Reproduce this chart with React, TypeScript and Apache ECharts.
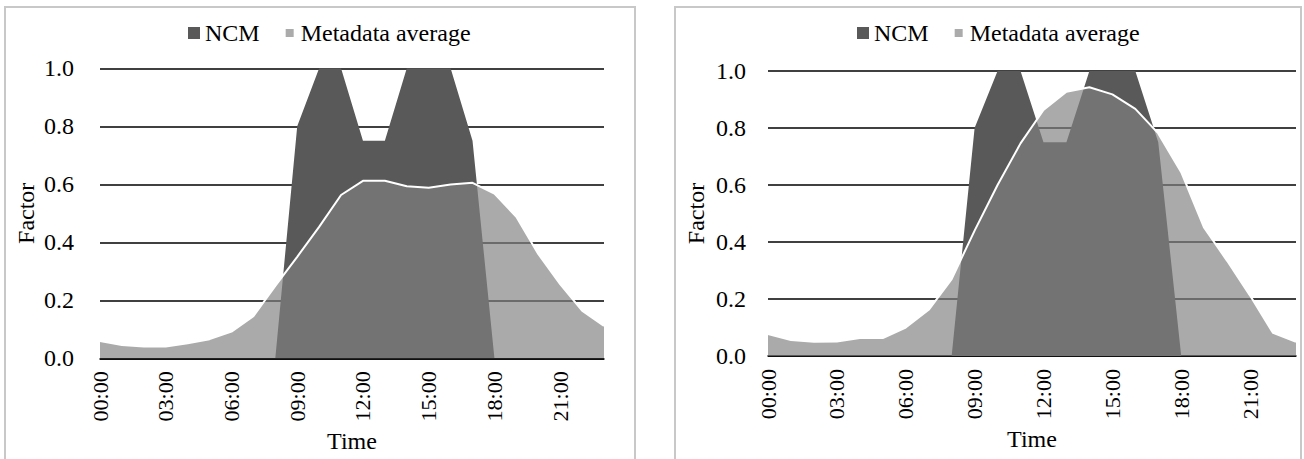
import React, { useEffect, useRef } from "react";
import * as echarts from "echarts";

const hours = [
  "00:00", "01:00", "02:00", "03:00", "04:00", "05:00", "06:00", "07:00",
  "08:00", "09:00", "10:00", "11:00", "12:00", "13:00", "14:00", "15:00",
  "16:00", "17:00", "18:00", "19:00", "20:00", "21:00", "22:00", "23:00",
];

const ncmLeft = [0, 0, 0, 0, 0, 0, 0, 0, 0, 0.8, 1, 1, 0.75, 0.75, 1, 1, 1, 0.75, 0, 0, 0, 0, 0, 0];
const metaLeft = [
  0.06, 0.046, 0.041, 0.041, 0.052, 0.066, 0.092, 0.145, 0.25, 0.35, 0.453, 0.563,
  0.612, 0.612, 0.593, 0.588, 0.599, 0.605, 0.568, 0.488, 0.36, 0.256, 0.164, 0.112,
];

const ncmRight = [0, 0, 0, 0, 0, 0, 0, 0, 0, 0.8, 1, 1, 0.75, 0.75, 1, 1, 1, 0.75, 0, 0, 0, 0, 0, 0];
const metaRight = [
  0.077, 0.056, 0.05, 0.051, 0.063, 0.063, 0.1, 0.162, 0.27, 0.44, 0.6, 0.746,
  0.863, 0.927, 0.943, 0.918, 0.867, 0.781, 0.645, 0.45, 0.334, 0.212, 0.081, 0.05,
];

const seriesNames = ["NCM", "Metadata average"];

const FONT = "Liberation Serif";

export default function App() {
  const ref = useRef<HTMLDivElement>(null);

  useEffect(() => {
    const chart = echarts.init(ref.current!, null, { renderer: "svg" });

    const panels = [
      {
        grid: { left: 100, top: 68.3, width: 504, height: 290 },
        legendLeft: 188,
        legendTop: 21,
        yLabelMargin: 26,
        yNameGap: 62,
        xNameGap: 68,
        ncm: ncmLeft,
        meta: metaLeft,
      },
      {
        grid: { left: 768, top: 71, width: 528, height: 285 },
        legendLeft: 857,
        legendTop: 21,
        yLabelMargin: 22,
        yNameGap: 60,
        xNameGap: 71,
        ncm: ncmRight,
        meta: metaRight,
      },
    ];

    const option: any = {
      animation: false,
      backgroundColor: "#ffffff",
      textStyle: { fontFamily: FONT, color: "#000" },
      graphic: [
        {
          type: "rect",
          shape: { x: 5, y: 7, width: 630, height: 470 },
          style: { fill: "none", stroke: "#c8c8c8", lineWidth: 2 },
          silent: true,
        },
        {
          type: "rect",
          shape: { x: 675, y: 7, width: 626, height: 470 },
          style: { fill: "none", stroke: "#c8c8c8", lineWidth: 2 },
          silent: true,
        },
      ],
      legend: panels.map((p) => ({
        left: p.legendLeft,
        top: p.legendTop,
        padding: 0,
        icon: "rect",
        itemWidth: 12,
        itemHeight: 12,
        itemGap: 22,
        textStyle: { fontFamily: FONT, fontSize: 24, color: "#000" },
        data: [
          { name: seriesNames[0], itemStyle: { color: "#595959", borderWidth: 0 } },
          {
            name: seriesNames[1],
            itemStyle: { color: "#ababab", borderColor: "#ffffff", borderWidth: 4 },
          },
        ],
      })),
      grid: panels.map((p) => ({ ...p.grid, containLabel: false })),
      xAxis: panels.map((p, i) => ({
        type: "category",
        gridIndex: i,
        data: hours,
        boundaryGap: false,
        name: "Time",
        nameLocation: "middle",
        nameGap: p.xNameGap,
        nameTextStyle: { fontFamily: FONT, fontSize: 24, color: "#000" },
        axisLine: { show: true, lineStyle: { color: "#000", width: 1.5 } },
        axisTick: { show: false },
        axisLabel: {
          interval: 2,
          rotate: 90,
          margin: 13,
          fontFamily: FONT,
          fontSize: 22,
          color: "#000",
        },
        splitLine: { show: false },
      })),
      yAxis: panels.map((p, i) => ({
        type: "value",
        gridIndex: i,
        min: 0,
        max: 1,
        interval: 0.2,
        name: "Factor",
        nameLocation: "middle",
        nameRotate: 90,
        nameGap: p.yNameGap,
        nameTextStyle: { fontFamily: FONT, fontSize: 24, color: "#000" },
        axisLine: { show: false },
        axisTick: { show: false },
        axisLabel: {
          margin: p.yLabelMargin,
          fontFamily: FONT,
          fontSize: 24,
          color: "#000",
          formatter: (v: number) => v.toFixed(1),
        },
        splitLine: { show: true, lineStyle: { color: "#000", width: 1.5 } },
      })),
      series: panels.flatMap((p, i) => [
        {
          name: seriesNames[0],
          type: "line",
          xAxisIndex: i,
          yAxisIndex: i,
          data: p.ncm,
          showSymbol: false,
          symbol: "none",
          itemStyle: { color: "#595959" },
          lineStyle: { width: 0, color: "#595959" },
          areaStyle: { color: "#595959", opacity: 1 },
          z: 2,
        },
        {
          name: seriesNames[1],
          type: "line",
          xAxisIndex: i,
          yAxisIndex: i,
          data: p.meta,
          showSymbol: false,
          symbol: "none",
          itemStyle: { color: "#ababab" },
          lineStyle: { width: 2, color: "#ffffff" },
          areaStyle: { color: "#808080", opacity: 0.67 },
          z: 3,
        },
      ]),
    };

    chart.setOption(option);
    return () => chart.dispose();
  }, []);

  return (
    <div
      ref={ref}
      style={{
        position: "absolute",
        left: 0,
        top: 0,
        width: 1304,
        height: 459,
        background: "#fff",
      }}
    />
  );
}
